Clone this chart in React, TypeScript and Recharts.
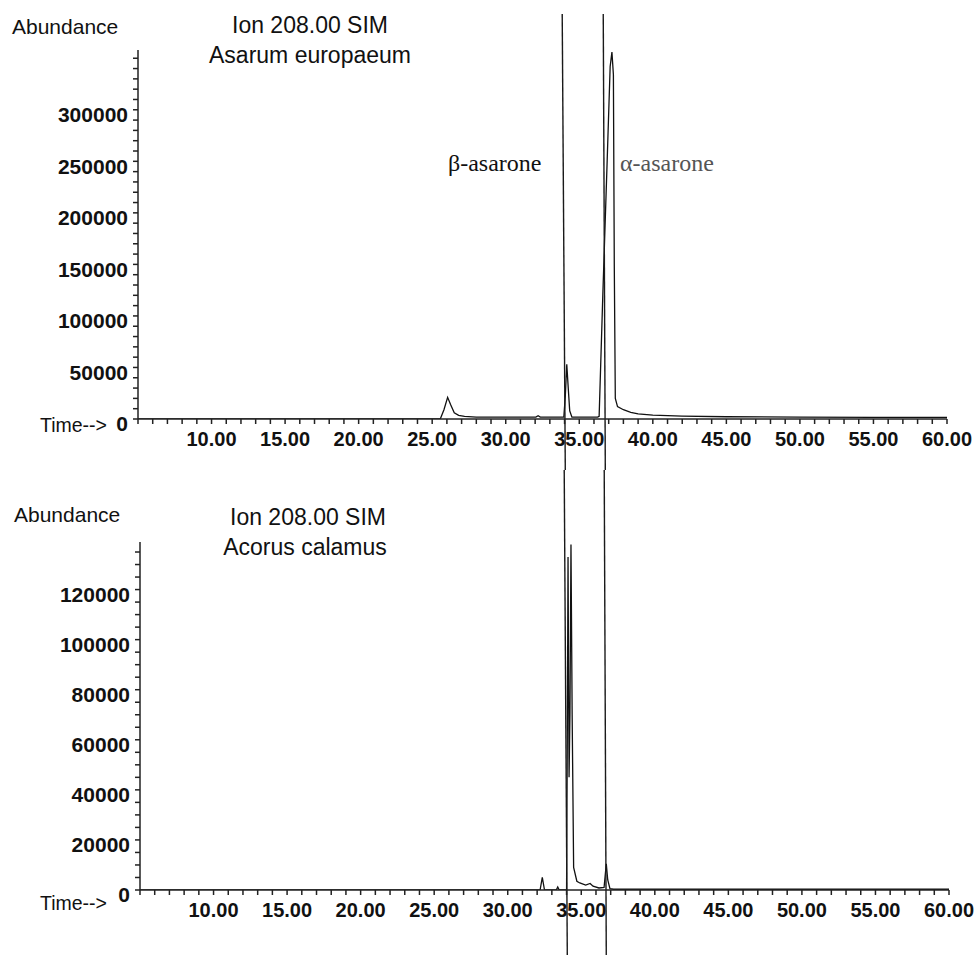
import { LineChart, Line, XAxis, YAxis, ReferenceLine } from "recharts";

// Asarum europaeum, ion 208 SIM
const asarumTime = [5, 25.55, 25.8, 26.05, 26.25, 26.5, 26.8, 27.2, 28, 32.05, 32.2, 32.35, 33.95, 34.05, 34.15, 34.25, 34.35, 34.5, 36.25, 36.35, 36.6, 36.9, 37.1, 37.22, 37.32, 37.38, 37.45, 37.6, 38.0, 38.5, 39.0, 40.0, 42.0, 45.0, 50, 55, 60];
const asarumAbund = [0, 0, 9000, 21000, 14000, 6000, 3500, 2500, 1800, 1800, 3200, 1800, 1800, 22000, 53000, 30000, 8000, 1800, 1800, 2500, 120000, 252000, 342000, 356000, 334000, 150000, 20000, 12000, 9000, 6500, 5000, 3800, 2800, 2200, 1800, 1500, 1500];

// Acorus calamus, ion 208 SIM
const acorusTime = [5, 32.2, 32.35, 32.5, 33.3, 33.4, 33.5, 34.0, 34.05, 34.1, 34.17, 34.23, 34.3, 34.38, 34.48, 34.7, 34.9, 35.3, 35.6, 35.8, 36.2, 36.55, 36.7, 36.8, 36.95, 37.2, 60];
const acorusAbund = [0, 0, 5000, 0, 0, 1200, 0, 0, 60000, 133000, 45000, 70000, 138000, 70000, 9000, 3500, 2800, 2000, 2600, 1500, 800, 1000, 10500, 4000, 500, 300, 300];

const timeTicks = Array.from({ length: 56 }, (_, i) => 5 + i);
const asarumTicks = Array.from({ length: 36 }, (_, i) => i * 10000);
const acorusTicks = Array.from({ length: 28 }, (_, i) => i * 5000);
const asarumLabels = [0, 50000, 100000, 150000, 200000, 250000, 300000];
const acorusLabels = [0, 20000, 40000, 60000, 80000, 100000, 120000];
const timeLabels = [10, 15, 20, 25, 30, 35, 40, 45, 50, 55, 60];

// hand-drawn marker lines (time at top / bottom of each panel)
const betaLine = { top: [33.84, 34.05], bottom: [33.84, 34.05] };
const alphaLine = { top: [36.63, 36.77], bottom: [36.56, 36.7] };

const toRows = (t: number[], v: number[]) => t.map((time, i) => ({ time, abund: v[i] }));

const sans = '"Liberation Sans", Arial, sans-serif';
const serif = '"Liberation Serif", "Times New Roman", serif';

const XTick = ({ x, y, payload }: any) =>
  timeLabels.includes(payload.value) ? (
    <text x={x} y={y} dy="0.71em" textAnchor="middle" fontSize={20} fontWeight="bold" fontFamily={sans} fill="#111">
      {payload.value.toFixed(2)}
    </text>
  ) : null;

const makeYTick = (labels: number[]) => ({ x, y, payload }: any) =>
  labels.includes(payload.value) ? (
    <text x={x} y={y + 5} dy="0.355em" textAnchor="end" fontSize={21} fontWeight="bold" fontFamily={sans} fill="#111">
      {payload.value}
    </text>
  ) : null;

function Panel({ data, yMax, yTicks, labels, marks, margin, height, yTopVal, yBotVal }: any) {
  return (
    <LineChart width={975} height={height} data={data} margin={margin}>
      <XAxis
        dataKey="time"
        type="number"
        domain={[5, 60]}
        ticks={timeTicks}
        interval={0}
        tick={<XTick />}
        tickSize={5}
        tickMargin={8}
        height={40}
        stroke="#222"
        strokeWidth={1.5}
        allowDataOverflow
      />
      <YAxis
        type="number"
        domain={[0, yMax]}
        ticks={yTicks}
        interval={0}
        tick={makeYTick(labels)}
        tickSize={5}
        tickMargin={5}
        width={130}
        stroke="#222"
        strokeWidth={1.5}
        allowDataOverflow
      />
      <Line type="linear" dataKey="abund" stroke="#111" strokeWidth={1.3} dot={false} isAnimationActive={false} />
      {marks.map((m: number[], i: number) => (
        <ReferenceLine
          key={i}
          segment={[{ x: m[0], y: yTopVal }, { x: m[1], y: yBotVal }]}
          stroke="#1a1a1a"
          strokeWidth={1.4}
          ifOverflow="visible"
        />
      ))}
    </LineChart>
  );
}

const abs = (left: number, top: number, extra: any = {}) => ({
  position: "absolute" as const,
  left,
  top,
  whiteSpace: "nowrap" as const,
  lineHeight: 1,
  fontFamily: sans,
  color: "#111",
  ...extra,
});

export default function App() {
  return (
    <div style={{ position: "absolute", left: 0, top: 0, width: 975, height: 955, background: "#fff", overflow: "hidden" }}>
      <div style={{ position: "absolute", left: 0, top: 0 }}>
        <Panel
          data={toRows(asarumTime, asarumAbund)}
          yMax={358000}
          yTicks={asarumTicks}
          labels={asarumLabels}
          marks={[betaLine.top, alphaLine.top]}
          margin={{ top: 50, right: 28, left: 8, bottom: 11 }}
          height={470}
          yTopVal={393000}
          yBotVal={-50000}
        />
      </div>
      <div style={{ position: "absolute", left: 0, top: 470 }}>
        <Panel
          data={toRows(acorusTime, acorusAbund)}
          yMax={139000}
          yTicks={acorusTicks}
          labels={acorusLabels}
          marks={[betaLine.bottom, alphaLine.bottom]}
          margin={{ top: 72, right: 26, left: 10, bottom: 25 }}
          height={485}
          yTopVal={168000}
          yBotVal={-26000}
        />
      </div>

      <div style={abs(12, 16, { fontSize: 21 })}>Abundance</div>
      <div style={abs(160, 14, { fontSize: 23, width: 300, textAlign: "center" })}>Ion 208.00 SIM</div>
      <div style={abs(160, 44, { fontSize: 23, width: 300, textAlign: "center" })}>Asarum europaeum</div>
      <div style={abs(40, 416, { fontSize: 19.5 })}>Time--&gt;</div>
      <div style={abs(448, 151, { fontSize: 24, fontFamily: serif })}>β-asarone</div>
      <div style={abs(620, 151, { fontSize: 24, fontFamily: serif, color: "#555" })}>α-asarone</div>

      <div style={abs(14, 504, { fontSize: 21 })}>Abundance</div>
      <div style={abs(158, 506, { fontSize: 23, width: 300, textAlign: "center" })}>Ion 208.00 SIM</div>
      <div style={abs(155, 536, { fontSize: 23, width: 300, textAlign: "center" })}>Acorus calamus</div>
      <div style={abs(40, 894, { fontSize: 19.5 })}>Time--&gt;</div>
    </div>
  );
}
